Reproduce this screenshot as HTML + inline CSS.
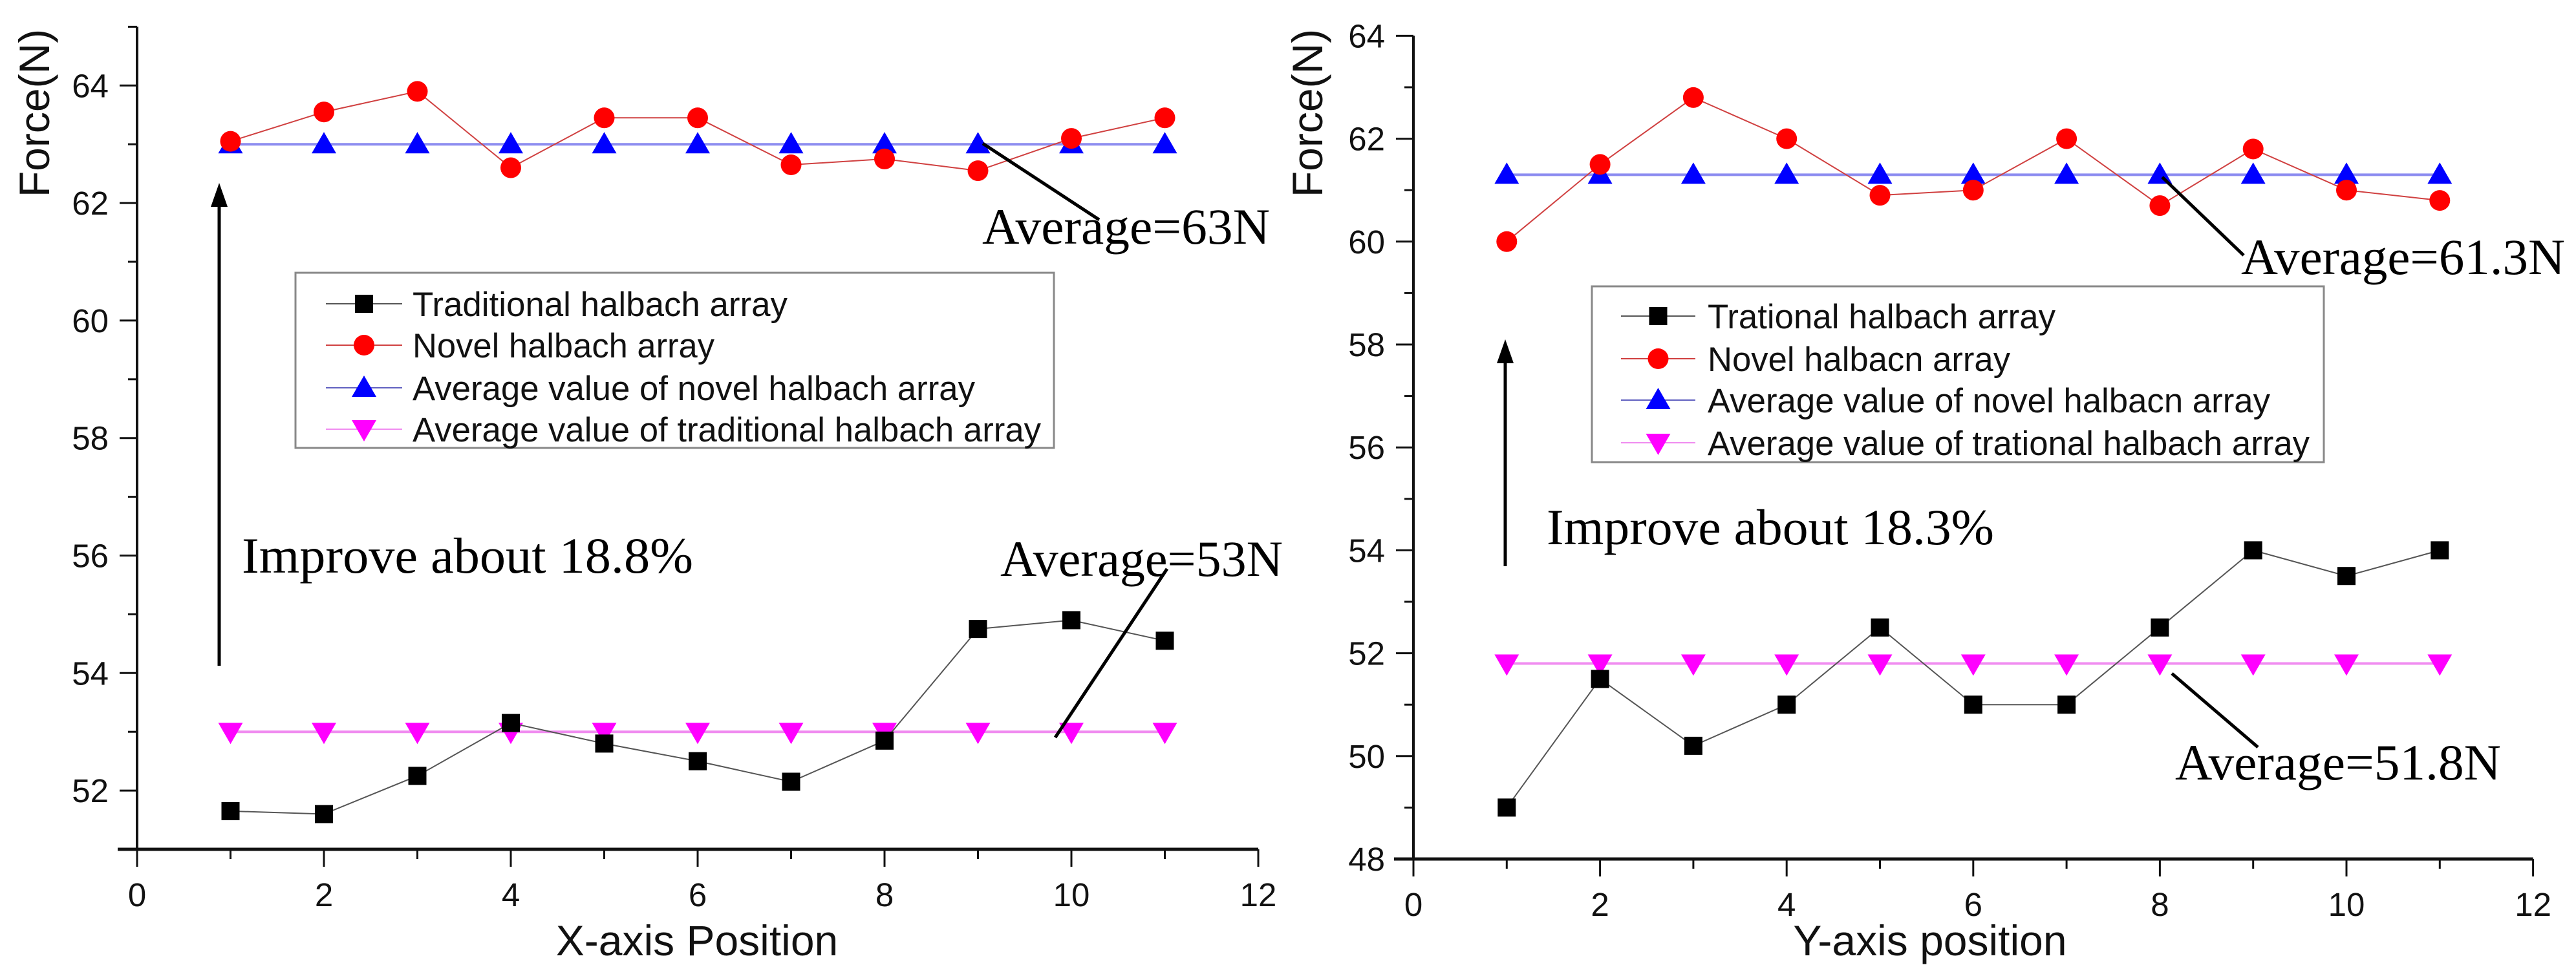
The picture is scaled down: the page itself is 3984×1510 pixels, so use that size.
<!DOCTYPE html>
<html><head><meta charset="utf-8"><style>
html,body{margin:0;padding:0;background:#fff;}
svg{display:block;}
.tk{font-family:"Liberation Sans",sans-serif;font-size:51px;fill:#111;}
.ttl{font-family:"Liberation Sans",sans-serif;font-size:66px;fill:#111;}
.lg{font-family:"Liberation Sans",sans-serif;font-size:53px;fill:#111;}
.an{font-family:"Liberation Serif",serif;font-size:78px;fill:#000;}
</style></head><body>
<svg id="svg" width="3984" height="1510" viewBox="0 0 3984 1510" xmlns="http://www.w3.org/2000/svg">
<defs><marker id="ah" markerWidth="10" markerHeight="10" refX="5" refY="0" orient="auto" markerUnits="userSpaceOnUse"></marker></defs>
</svg>
<script>
// shared x categories
const positions = [1,2,3,4,5,6,7,8,9,10,11];
const xTicks = [0,2,4,6,8,10,12];
// left chart data
const leftTraditional = [51.65,51.6,52.25,53.15,52.8,52.5,52.15,52.85,54.75,54.9,54.55];
const leftNovel = [63.05,63.55,63.9,62.6,63.45,63.45,62.65,62.75,62.55,63.1,63.45];
const leftAvgNovel = [63,63,63,63,63,63,63,63,63,63,63];
const leftAvgTraditional = [53,53,53,53,53,53,53,53,53,53,53];
const leftYTicks = [52,54,56,58,60,62,64];
const leftLegend = ["Traditional halbach array","Novel halbach array","Average value of novel halbach array","Average value of traditional halbach array"];
// right chart data
const rightTraditional = [49,51.5,50.2,51,52.5,51,51,52.5,54,53.5,54];
const rightNovel = [60,61.5,62.8,62,60.9,61,62,60.7,61.8,61,60.8];
const rightAvgNovel = [61.3,61.3,61.3,61.3,61.3,61.3,61.3,61.3,61.3,61.3,61.3];
const rightAvgTraditional = [51.8,51.8,51.8,51.8,51.8,51.8,51.8,51.8,51.8,51.8,51.8];
const rightYTicks = [48,50,52,54,56,58,60,62,64];
const rightLegend = ["Trational halbach array","Novel halbacn array","Average value of novel halbacn array","Average value of trational halbach array"];

const NS="http://www.w3.org/2000/svg";
const svg=document.getElementById('svg');
function mk(tag,attrs,parent){const e=document.createElementNS(NS,tag);for(const k in attrs)e.setAttribute(k,attrs[k]);(parent||svg).appendChild(e);return e;}

function marker(g,type,x,y){
  let e;
  if(type==='sq'){e=mk('rect',{x:x-14,y:y-14,width:28,height:28,fill:'#000'},g);}
  else if(type==='ci'){e=mk('ellipse',{cx:x,cy:y,rx:16,ry:16,fill:'#f00'},g);}
  else if(type==='up'){e=mk('polygon',{points:`${x},${y-19} ${x-19},${y+14} ${x+19},${y+14}`,fill:'#00f'},g);}
  else {e=mk('polygon',{points:`${x},${y+19} ${x-19},${y-14} ${x+19},${y-14}`,fill:'#f0f'},g);}
  return e;
}

function chart(cfg){
  const g=mk('g',{});
  
  
  const X=v=>cfg.x0+v*cfg.xu;
  const Y=v=>cfg.y0-(v-cfg.ymin)*cfg.yu;
  const xEnd=X(12), yTop=Y(cfg.ymax), yBot=Y(cfg.ymin);
  // axes
  const ya=mk('line',{x1:cfg.x0,y1:yTop,x2:cfg.x0,y2:yBot,stroke:'#111','stroke-width':4},g);
  
  const xa=mk('line',{x1:cfg.x0-30,y1:yBot,x2:xEnd,y2:yBot,stroke:'#111','stroke-width':5},g);
  
  // y ticks
  for(let v=Math.ceil(cfg.ymin);v<=cfg.ymax;v++){
    const major=cfg.yTicks.includes(v);
    mk('line',{x1:cfg.x0-(major?27:14),y1:Y(v),x2:cfg.x0,y2:Y(v),stroke:'#111','stroke-width':3},g);
  }
  cfg.yTicks.forEach(v=>{
    const t=mk('text',{x:cfg.x0-44,y:Y(v)+18,'text-anchor':'end',class:'tk'},g);t.textContent=v;
    
  });
  // x ticks
  for(let v=0;v<=12;v++){
    const major=xTicks.includes(v);
    mk('line',{x1:X(v),y1:yBot,x2:X(v),y2:yBot+(major?27:15),stroke:'#111','stroke-width':3},g);
  }
  xTicks.forEach(v=>{
    const t=mk('text',{x:X(v),y:yBot+88,'text-anchor':'middle',class:'tk'},g);t.textContent=v;
    
  });
  // titles
  const xt=mk('text',{x:cfg.xTitleX,y:1478,'text-anchor':'middle',class:'ttl'},g);xt.textContent=cfg.xTitle;
  
  const yt=mk('text',{x:0,y:0,'text-anchor':'middle',class:'ttl',transform:`translate(${cfg.yTitleX},175) rotate(-90)`},g);yt.textContent='Force(N)';
  
  // series
  const series=[
    {d:cfg.avgNovel,m:'up',c:'#8c8cf0',w:4,n:'series-average-novel'},
    {d:cfg.avgTrad,m:'dn',c:'#f08cf0',w:4,n:'series-average-traditional'},
    {d:cfg.trad,m:'sq',c:'#555',w:2,n:'series-traditional'},
    {d:cfg.novel,m:'ci',c:'#d04040',w:2,n:'series-novel'}
  ];
  series.forEach(s=>{
    const sg=mk('g',{},g);
    
    const pts=positions.map((p,i)=>X(p)+','+Y(s.d[i])).join(' ');
    mk('polyline',{points:pts,fill:'none',stroke:s.c,'stroke-width':s.w},sg);
    positions.forEach((p,i)=>{
      const m=marker(sg,s.m,X(p),Y(s.d[i]));
      
    });
  });
  // legend
  const lgG=mk('g',{},g);
  
  mk('rect',{x:cfg.lg.x,y:cfg.lg.y,width:cfg.lg.w,height:cfg.lg.h,fill:'#fff',stroke:'#888','stroke-width':3},lgG);
  const lc=[['sq','#555'],['ci','#d04040'],['up','#6060c0'],['dn','#f08cf0']];
  cfg.legend.forEach((txt,i)=>{
    const ey=cfg.lg.ey[i];
    const eg=mk('g',{},lgG);
    
    mk('line',{x1:cfg.lg.l1,y1:ey,x2:cfg.lg.l2,y2:ey,stroke:lc[i][1],'stroke-width':2},eg);
    marker(eg,lc[i][0],(cfg.lg.l1+cfg.lg.l2)/2,ey);
    const t=mk('text',{x:cfg.lg.tx,y:ey+19,class:'lg',textLength:cfg.lg.tl[i],lengthAdjust:'spacingAndGlyphs'},eg);t.textContent=txt;
  });
  // annotations
  cfg.ann.forEach(a=>{
    const t=mk('text',{x:a.x,y:a.y,class:'an',textLength:a.w,lengthAdjust:'spacingAndGlyphs'},g);t.textContent=a.t;
    
  });
  cfg.lines.forEach(l=>{
    const e=mk('line',{x1:l[0],y1:l[1],x2:l[2],y2:l[3],stroke:'#000','stroke-width':5},g);
    
  });
  // arrow
  const ar=mk('g',{},g);
  
  mk('line',{x1:cfg.arrow[0],y1:cfg.arrow[2],x2:cfg.arrow[0],y2:cfg.arrow[1]+30,stroke:'#000','stroke-width':5},ar);
  mk('polygon',{points:`${cfg.arrow[0]},${cfg.arrow[1]} ${cfg.arrow[0]-13},${cfg.arrow[1]+37} ${cfg.arrow[0]+13},${cfg.arrow[1]+37}`,fill:'#000'},ar);
}

chart({name:'left-chart',x0:212,xu:144.5,y0:1314,ymin:51,ymax:65,yu:90.9,yTicks:leftYTicks,
  trad:leftTraditional,novel:leftNovel,avgNovel:leftAvgNovel,avgTrad:leftAvgTraditional,
  xTitle:'X-axis Position',xTitleX:1078,yTitleX:76,legend:leftLegend,
  lg:{x:457,y:422,w:1173,h:271,ey:[470,534,600,664],l1:504,l2:622,tx:638,tl:[580,467,870,972]},
  ann:[{t:'Average=63N',x:1519,y:377,w:445,n:'average-novel-label'},
       {t:'Average=53N',x:1547,y:891,w:437,n:'average-traditional-label'},
       {t:'Improve about 18.8%',x:374,y:886,w:698,n:'improvement-label'}],
  lines:[[1520,222,1700,340],[1805,880,1632,1141]],
  arrow:[339,283,1030]});

chart({name:'right-chart',x0:2186,xu:144.3,y0:1329,ymin:48,ymax:64,yu:79.6,yTicks:rightYTicks,
  trad:rightTraditional,novel:rightNovel,avgNovel:rightAvgNovel,avgTrad:rightAvgTraditional,
  xTitle:'Y-axis position',xTitleX:2985,yTitleX:2045,legend:rightLegend,
  lg:{x:2462,y:443,w:1132,h:272,ey:[489,555,619,685],l1:2507,l2:2622,tx:2641,tl:[538,468,870,931]},
  ann:[{t:'Average=61.3N',x:3466,y:424,w:501,n:'average-novel-label'},
       {t:'Average=51.8N',x:3364,y:1206,w:504,n:'average-traditional-label'},
       {t:'Improve about 18.3%',x:2392,y:842,w:692,n:'improvement-label'}],
  lines:[[3344,274,3470,395],[3359,1042,3492,1156]],
  arrow:[2328,525,876]});
</script>
</body></html>
